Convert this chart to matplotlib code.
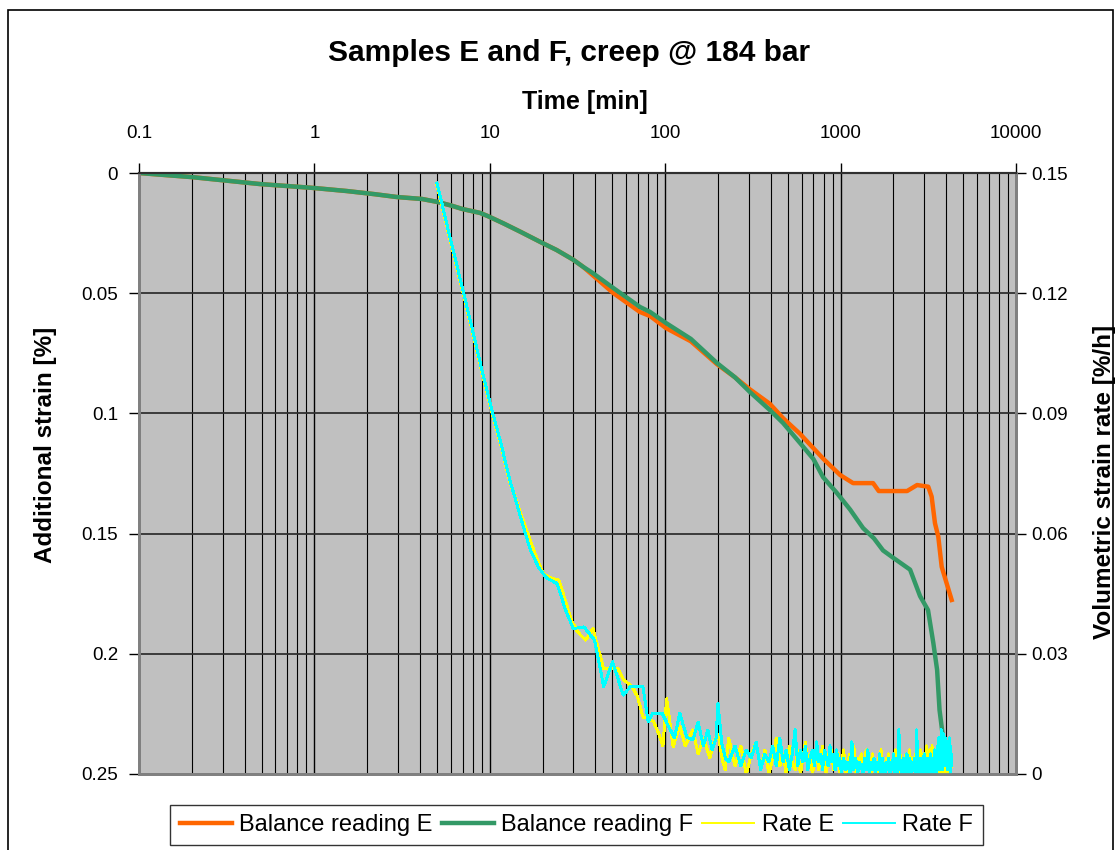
import numpy as np
import matplotlib.pyplot as plt
from matplotlib.ticker import LogLocator, NullFormatter
from matplotlib.patches import Rectangle

plt.rcParams['font.family'] = ['Liberation Sans', 'DejaVu Sans']

# balance readings, time [min] and additional strain [%]
t_bal_e = [0.1, 0.2, 0.49, 0.98, 1.53, 2.2, 2.96, 4.1, 5.0, 6.0,
           7.0, 8.8, 9.8, 12, 15, 19.8, 24, 29.8, 34, 38.6,
           50.5, 71.7, 82, 101, 140, 197, 250, 304, 395, 470,
           587, 670, 800, 993, 1178, 1350, 1532, 1650, 2000, 2393,
           2729, 3160, 3304, 3452, 3606, 3770, 4024, 4297]
strain_e = [0, 0.0017, 0.0046, 0.0062, 0.0075, 0.0088, 0.010, 0.0108, 0.012, 0.0135,
            0.015, 0.0166, 0.018, 0.021, 0.0245, 0.029, 0.032, 0.036, 0.039, 0.0425,
            0.0499, 0.0578, 0.0595, 0.0645, 0.070, 0.0795, 0.085, 0.090, 0.096, 0.102,
            0.1085, 0.113, 0.119, 0.1256, 0.129, 0.129, 0.129, 0.1323, 0.1323, 0.1323,
            0.1298, 0.1305, 0.1346, 0.1457, 0.1513, 0.1638, 0.1707, 0.1776]

t_bal_f = [0.1, 0.2, 0.49, 0.98, 1.53, 2.2, 2.96, 4.1, 5.0, 6.0,
           7.0, 8.8, 9.8, 12, 15, 19.8, 24, 29.8, 34, 38.6,
           50.5, 71.7, 82, 101, 140, 197, 250, 304, 395, 470,
           587, 700, 794, 950, 1133, 1343, 1550, 1746, 1990, 2490,
           2838, 3150, 3378, 3550, 3665, 3870, 3950]
strain_f = [0, 0.0017, 0.0046, 0.0062, 0.0075, 0.0088, 0.010, 0.0108, 0.012, 0.0135,
            0.015, 0.0166, 0.018, 0.021, 0.0245, 0.029, 0.032, 0.036, 0.039, 0.0416,
            0.0478, 0.0557, 0.0578, 0.0624, 0.069, 0.079, 0.085, 0.0911, 0.0986, 0.104,
            0.1123, 0.119, 0.1265, 0.133, 0.140, 0.1477, 0.152, 0.157, 0.160, 0.165,
            0.176, 0.1818, 0.1955, 0.2067, 0.2234, 0.237, 0.25]

# volumetric strain rate, in 0.001 %/h
t_rate_e = [5.0, 6.0, 6.92, 8.0, 9.0, 10.25, 11.5, 13, 15, 17.8,
            20.1, 22, 24.8, 29.2, 31.6, 35.2, 38.7, 44.6, 53.7, 58,
            64.8, 69.5, 75, 80, 86, 92, 97, 102, 111, 121,
            130, 144, 154, 165, 180, 190, 200, 213, 220]
rate_e = [147, 132.5, 121.5, 110, 100.5, 90.5, 82.5, 73, 65, 55.9,
          50.1, 49, 48.4, 38.4, 35.5, 33.4, 36.3, 26.3, 26.3, 23.5,
          21.8, 19.3, 14, 14, 13, 10, 7, 18.8, 6.8, 12,
          7, 11, 5, 9, 4, 8, 10, 3, 1]

t_rate_f = [5.0, 6.0, 6.92, 8.0, 9.0, 10.25, 11.5, 13, 15, 17,
            19, 21, 24.2, 27, 29.9, 34.4, 39.6, 44.6, 50.1, 57.6,
            63.4, 68, 74.6, 80, 85, 90, 96, 105, 113, 121,
            133, 144, 154, 165, 175, 185, 195, 200, 210, 220]
rate_f = [147.5, 133, 122, 110.5, 101, 91, 83, 73.4, 64, 56,
          51.5, 49, 47.5, 41, 36.3, 36.7, 33.4, 21.8, 28, 19.7,
          21.8, 21.8, 21.8, 13, 15.2, 15.2, 15.2, 11.7, 9, 15.2,
          9.2, 8.5, 13, 7, 11, 6, 9, 17.7, 7.7, 4]

# late, noisy part of both rates (same logging times)
t_noise = [230, 250, 270, 290, 310, 330, 350, 370, 390, 410,
           430, 450, 470, 490, 510, 530, 550, 570, 590, 610,
           630, 650, 670, 690, 710, 730, 750, 770, 790, 810,
           830, 850, 870, 890, 910, 930, 950, 970, 990,
           1010, 1040, 1070, 1100, 1130, 1160, 1190, 1220, 1250, 1280,
           1310, 1340, 1370, 1400, 1430, 1460, 1490, 1520, 1550, 1580,
           1610, 1640, 1670, 1700, 1730, 1760, 1790, 1820, 1850, 1880,
           1910, 1940, 1970, 2000, 2030, 2060, 2090, 2120, 2150, 2180,
           2210, 2240, 2270, 2300, 2330, 2360, 2390, 2420, 2450, 2480,
           2510, 2540, 2570, 2600, 2630, 2660, 2690, 2720, 2750, 2780,
           2810, 2840, 2870, 2900, 2930, 2960, 2990, 3020, 3050, 3080,
           3110, 3140, 3170, 3200, 3230, 3260, 3290, 3320, 3350, 3380,
           3410, 3440, 3470, 3500, 3530, 3560, 3590, 3620, 3650, 3680,
           3710, 3740, 3770, 3800, 3830, 3860, 3890, 3920, 3950, 3980,
           4010, 4040, 4070, 4100, 4130, 4160, 4190, 4220, 4250, 4280,
           4310]
noise_e = [9, 2, 7, 0, 5, 8, 1, 6, 0, 4, 9, 2, 5, 0, 7, 3, 1, 6, 0, 4,
           8, 2, 5, 0, 3, 6, 1, 4, 7, 2, 0, 5, 3, 6, 1, 4, 2, 5, 0,
           2, 6, 0, 3, 5, 1, 7, 0, 4, 2,
           5, 0, 3, 6, 1, 4, 0, 5, 2, 3,
           0, 4, 1, 6, 2, 3, 0, 4, 1, 5,
           0, 3, 2, 4, 0, 6, 1, 3, 0, 5,
           2, 4, 0, 3, 1, 5, 0, 4, 2, 6,
           0, 3, 1, 4, 2, 5, 0, 3, 1, 4,
           2, 6, 0, 3, 1, 5, 2, 4, 0, 7,
           3, 5, 0, 6, 2, 4, 0, 7, 1, 5,
           0, 6, 2, 4, 0, 5, 1, 7, 0, 6,
           1, 8, 0, 5, 2, 6, 0, 4, 1, 7,
           0, 5, 2, 6, 0, 3, 1, 5, 0, 4,
           2]
noise_f = [3, 7, 2, 6, 4, 8, 1, 5, 3, 7, 2, 9, 3, 6, 1, 5, 11, 2, 6, 3,
           7, 1, 4, 6, 2, 8, 3, 5, 1, 6, 4, 2, 7, 3, 5, 1, 6, 2, 4,
           0, 4, 1, 3, 0, 8, 1, 4, 0, 3,
           2, 0, 4, 1, 6, 0, 3, 1, 4, 0,
           3, 1, 5, 0, 4, 2, 0, 3, 1, 4,
           0, 3, 1, 5, 0, 4, 2, 0, 11, 1,
           3, 0, 4, 1, 3, 0, 5, 1, 0, 4,
           2, 0, 3, 1, 4, 0, 3, 11, 0, 4,
           1, 3, 0, 4, 2, 0, 5, 1, 3, 0,
           4, 1, 0, 3, 2, 5, 0, 4, 1, 3,
           0, 6, 2, 5, 0, 7, 3, 9, 1, 6,
           2, 11, 4, 8, 1, 10, 3, 7, 2, 9,
           4, 8, 1, 6, 3, 9, 2, 7, 0, 5,
           3]

x_ticks = [0.1, 1, 10, 100, 1000, 10000]
x_labels = ['0.1', '1', '10', '100', '1000', '10000']
y_ticks = [0, 0.05, 0.1, 0.15, 0.2, 0.25]
y_labels = ['0', '0.05', '0.1', '0.15', '0.2', '0.25']
y2_ticks = [0, 0.03, 0.06, 0.09, 0.12, 0.15]
y2_labels = ['0', '0.03', '0.06', '0.09', '0.12', '0.15']

W, H = 1120, 850
fig = plt.figure(figsize=(W / 100, H / 100), dpi=100)
fig.patches.append(Rectangle((8 / W, -0.01), 1105 / W, 1.01 - 10 / H, transform=fig.transFigure,
                             fill=False, edgecolor='black', lw=1.2))

ax = fig.add_axes([139 / W, 76 / H, 877 / W, 601 / H])
ax.set_facecolor('#C0C0C0')
ax.set_xscale('log')
ax.set_xlim(0.1, 10000)
ax.set_ylim(0.25, 0)
ax.xaxis.tick_top()
ax.set_xticks(x_ticks, labels=x_labels)
ax.xaxis.set_minor_locator(LogLocator(base=10, subs=np.arange(2, 10), numticks=100))
ax.xaxis.set_minor_formatter(NullFormatter())
ax.set_yticks(y_ticks, labels=y_labels)
ax.grid(which='major', axis='x', color='black', lw=1.0)
ax.grid(which='minor', axis='x', color='black', lw=0.8)
ax.grid(which='major', axis='y', color='#303030', lw=1.3)
ax.tick_params(which='minor', length=0)
ax.tick_params(axis='x', which='major', length=7, width=1, labelsize=13.5, pad=15)
ax.tick_params(axis='y', which='major', length=7, width=1, labelsize=13.5, pad=8)

ln_e, = ax.plot(np.array(t_bal_e), np.array(strain_e), color='#FF6600', lw=3.2, label='Balance reading E')
ln_f, = ax.plot(np.array(t_bal_f), np.array(strain_f), color='#339966', lw=3.2, label='Balance reading F')

ax2 = ax.twinx()
ax2.set_ylim(0, 0.15)
ax2.set_yticks(y2_ticks, labels=y2_labels)
ax2.tick_params(axis='y', length=7, width=1, labelsize=13.5, pad=4)

te = np.array(t_rate_e + t_noise)
re = np.array(rate_e + noise_e) / 1000
tf = np.array(t_rate_f + t_noise)
rf = np.array(rate_f + noise_f) / 1000
ln_re, = ax2.plot(te, re, color='#FFFF00', lw=1.4, antialiased=False, label='Rate E')
ln_rf, = ax2.plot(tf, rf, color='#00FFFF', lw=1.4, antialiased=False, label='Rate F')

for a in (ax, ax2):
    a.spines['top'].set_color('#303030')
    a.spines['top'].set_linewidth(1.5)
    for s in ('left', 'right', 'bottom'):
        a.spines[s].set_color('#808080')
        a.spines[s].set_linewidth(2)

fig.text(569 / W, 1 - 53 / H, 'Samples E and F, creep @ 184 bar', ha='center', va='center',
         fontsize=21.5, fontweight='bold')
fig.text(585 / W, 1 - 102 / H, 'Time [min]', ha='center', va='center', fontsize=18, fontweight='bold')
fig.text(46 / W, 1 - 445 / H, 'Additional strain [%]', ha='center', va='center', rotation=90,
         fontsize=17.5, fontweight='bold')
fig.text(1104 / W, 1 - 482 / H, 'Volumetric strain rate [%/h]', ha='center', va='center', rotation=90,
         fontsize=17.5, fontweight='bold')

leg = fig.legend(handles=[ln_e, ln_f, ln_re, ln_rf], loc='center', bbox_to_anchor=(576.5 / W, 1 - 825 / H),
                 ncol=4, fontsize=17, frameon=True, fancybox=False, handlelength=2.2,
                 handletextpad=0.3, columnspacing=0.4, borderpad=0.4)
leg.get_frame().set_edgecolor('black')
leg.get_frame().set_linewidth(1)

fig.savefig('out.png', dpi=100)
